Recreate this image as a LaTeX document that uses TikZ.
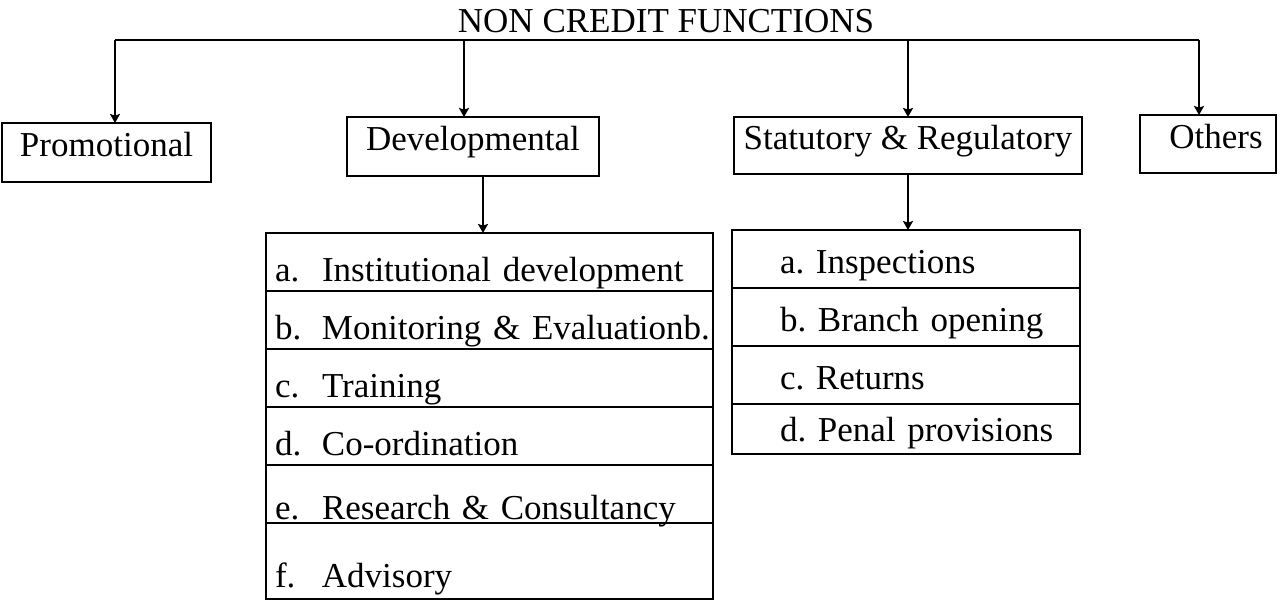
\documentclass[tikz,border=0pt]{standalone}
\usepackage{fontspec}
\setmainfont{Liberation Serif}
\usetikzlibrary{positioning,arrows.meta}

\newcommand{\itm}[2]{\makebox[23.5pt][l]{#1}\mbox{#2}}

\begin{document}
\frenchspacing
\begin{tikzpicture}[x=0.5pt,y=-0.5pt,
    font=\fontsize{17.5}{21}\selectfont,
    line width=0.9pt,
    arr/.style={-{Stealth[length=4.5pt,width=5pt,inset=0.8pt]}},
    topbox/.style={draw,outer sep=0pt,inner sep=0pt,text height=14pt,text depth=9.6pt},
    devrow/.style={draw,outer sep=0pt,inner ysep=0pt,inner xsep=4.5pt,text width=214.5pt,align=left,text height=24pt,text depth=5pt},
    statrow/.style={draw,outer sep=0pt,inner ysep=0pt,inner xsep=24pt,text width=126pt,align=left,text height=21.5pt,text depth=7.5pt}]

  \useasboundingbox (0,0) rectangle (1281,607);

  %title
  \node (title) [anchor=base] at (666,32) {NON CREDIT FUNCTIONS};
  \coordinate (bus) at (0,40);

  %functions
  \node (prom) [topbox,minimum width=104.5pt,minimum height=29.5pt] at (106.5,152.5) {Promotional};
  \node (dev) [topbox,minimum width=126pt,minimum height=29.5pt] at (473,146.5) {Developmental};
  \node (stat) [topbox,minimum width=174pt,minimum height=28.5pt] at (908,145.5) {Statutory \& Regulatory};
  \node (oth) [topbox,minimum width=68pt,minimum height=29pt] at (1208,144) {\hspace{8pt}Others};

  %developmental list
  \node (d1) [devrow,anchor=north] at (489.5,233) {\itm{a.}{Institutional development}};
  \node (d2) [devrow,below=0pt of d1] {\itm{b.}{Monitoring \& Evaluationb.}};
  \node (d3) [devrow,below=0pt of d2] {\itm{c.}{Training}};
  \node (d4) [devrow,below=0pt of d3] {\itm{d.}{Co-ordination}};
  \node (d5) [devrow,below=0pt of d4,text height=27pt,text depth=2pt] {\itm{e.}{Research \& Consultancy}};
  \node (d6) [devrow,below=0pt of d5,text height=32pt,text depth=6pt] {\itm{f.}{Advisory}};

  %statutory list
  \node (s1) [statrow,anchor=north] at (906,230) {\mbox{a. Inspections}};
  \node (s2) [statrow,below=0pt of s1] {\mbox{b. Branch opening}};
  \node (s3) [statrow,below=0pt of s2] {\mbox{c. Returns}};
  \node (s4) [statrow,below=0pt of s3,text height=18.5pt,text depth=6.5pt] {\mbox{d. Penal provisions}};

  %arrows
  \coordinate (pa) at ([xshift=4.25pt]prom.north);
  \coordinate (da) at ([xshift=-4.5pt]dev.north);
  \coordinate (oa) at ([xshift=-4.5pt]oth.north);
  \coordinate (dd) at ([xshift=5pt]dev.south);
  \draw (pa |- bus) -- (oa |- bus);
  \foreach \p in {pa,da,stat.north,oa}
    \draw[arr] (\p |- bus) -- (\p);
  \draw[arr] (dd) -- (dd |- d1.north);
  \draw[arr] (stat.south) -- (stat.south |- s1.north);

\end{tikzpicture}
\end{document}
